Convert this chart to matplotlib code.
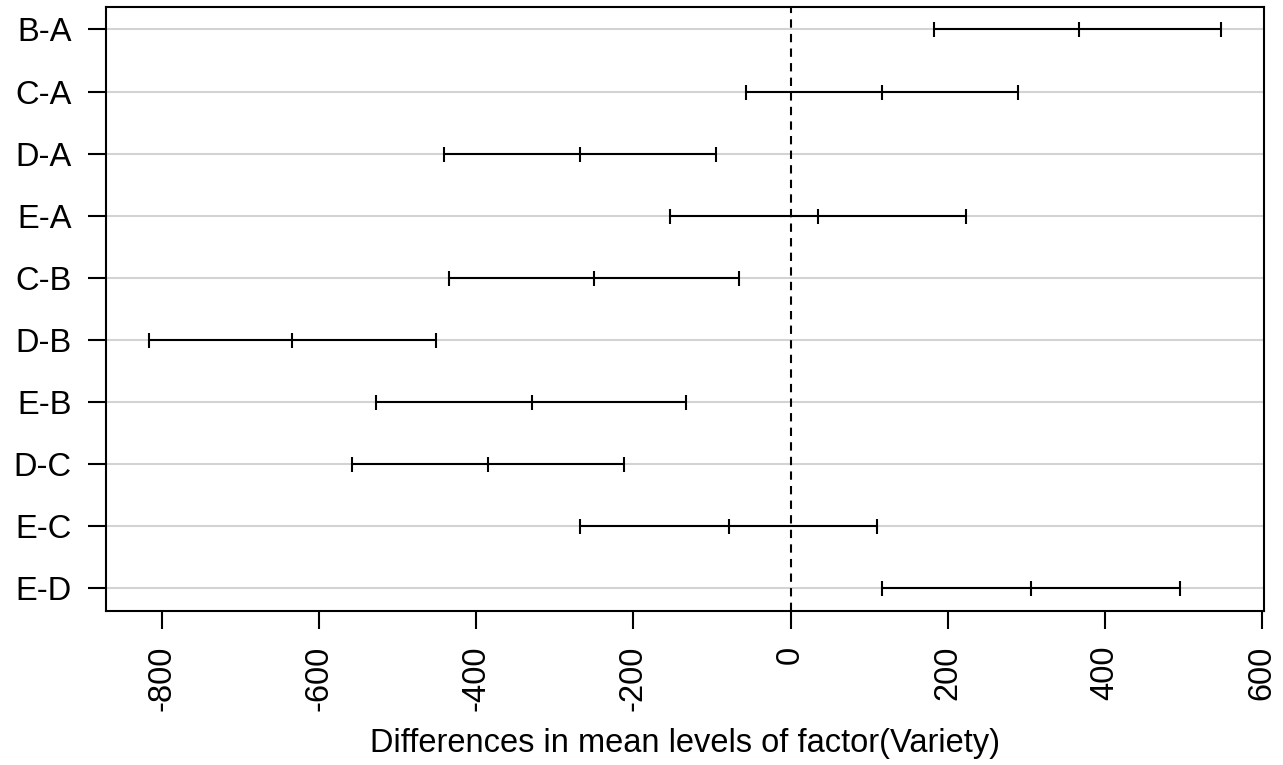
import matplotlib
matplotlib.use("Agg")
import matplotlib.pyplot as plt
import numpy as np

plt.rcParams['font.family'] = ['Liberation Sans', 'DejaVu Sans']

comparisons = ["B-A", "C-A", "D-A", "E-A", "C-B", "D-B", "E-B", "D-C", "E-C", "E-D"]
diff = [366.4, 116.6, -268.0, 35.2, -250.1, -634.4, -328.7, -385.2, -78.6, 306.0]
lwr = [182.5, -57.0, -440.8, -152.9, -434.0, -815.8, -527.9, -558.5, -268.0, 116.0]
upr = [547.3, 289.6, -94.6, 223.6, -66.2, -450.9, -132.5, -211.5, 109.3, 495.7]
xticks = [-800, -600, -400, -200, 0, 200, 400, 600]
xlabel = "Differences in mean levels of factor(Variety)"

fig = plt.figure(figsize=(12.83, 7.65), dpi=100)
ax = fig.add_axes([0.083, 0.2017, 0.902, 0.789])

y = np.arange(1, len(comparisons) + 1)
diff_a = np.array(diff)
lwr_a = np.array(lwr)
upr_a = np.array(upr)

lw = 1.5
for yi in y:
    ax.axhline(yi, color='#d3d3d3', lw=1.5, zorder=1)

ax.axvline(0, color='black', lw=lw, ls=(0, (4, 3)), zorder=2)

ax.errorbar(diff_a, y, xerr=[diff_a - lwr_a, upr_a - diff_a], fmt='none',
            ecolor='black', elinewidth=lw, capsize=5.4, capthick=lw, zorder=3)
ax.plot(diff_a, y, ls='none', marker='|', markersize=10.8, mew=lw, color='black', zorder=3)

lo, hi = lwr_a.min(), upr_a.max()
pad = 0.04 * (hi - lo)
ax.set_xlim(lo - pad, hi + pad)
ypad = 0.04 * (len(y) - 1)
ax.set_ylim(len(y) + ypad, 1 - ypad)

ax.set_yticks(y)
ax.set_yticklabels(comparisons)
ax.set_xticks(xticks)
ax.set_xticklabels([str(t) for t in xticks], rotation=90)

ax.tick_params(axis='both', length=13, width=lw, labelsize=23.5, color='black')
ax.tick_params(axis='y', pad=12)
ax.tick_params(axis='x', pad=12)
for s in ax.spines.values():
    s.set_linewidth(lw)
    s.set_color('black')

ax.set_xlabel(xlabel, fontsize=23.5, labelpad=12)

fig.savefig("out.png", dpi=100)
